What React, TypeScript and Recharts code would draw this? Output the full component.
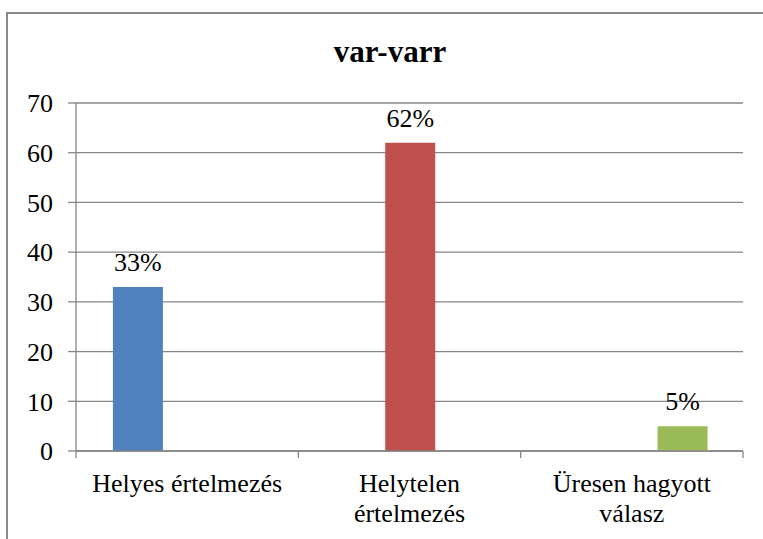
import React from "react";
import { BarChart, Bar, XAxis, YAxis, CartesianGrid, LabelList } from "recharts";

const title = "var-varr";
const categories = ["Helyes értelmezés", "Helytelen értelmezés", "Üresen hagyott válasz"];
const seriesHelyes: (number | null)[] = [33, null, null];
const seriesHelytelen: (number | null)[] = [null, 62, null];
const seriesUres: (number | null)[] = [null, null, 5];
const yTicks = [0, 10, 20, 30, 40, 50, 60, 70];

const data = categories.map((name, i) => ({
  name,
  a: seriesHelyes[i],
  b: seriesHelytelen[i],
  c: seriesUres[i],
}));

const W = 763;
const H = 539;
const xAxisHeight = 30;
const margin = { top: 103, right: 20, bottom: 88 - xAxisHeight, left: 16 };
const yAxisWidth = 60;
const plotWidth = W - margin.left - margin.right - yAxisWidth;
const band = plotWidth / categories.length;
const FONT = "'Liberation Serif', 'Times New Roman', serif";
const GRID = "#868686";
const textStyle: React.CSSProperties = { fontFamily: FONT, fontSize: 26 };

function splitLabel(s: string): string[] {
  if (s.length <= 18) return [s];
  const idx = s.lastIndexOf(" ");
  return [s.slice(0, idx), s.slice(idx + 1)];
}

const XTick = (props: any) => {
  const { x, y, payload, index } = props;
  const lines = splitLabel(String(payload.value));
  return (
    <g>
      <line x1={x - band / 2} x2={x - band / 2} y1={y} y2={y + 7} stroke={GRID} strokeWidth={1.3} />
      {index === categories.length - 1 && (
        <line x1={x + band / 2} x2={x + band / 2} y1={y} y2={y + 7} stroke={GRID} strokeWidth={1.3} />
      )}
      <text x={x} y={y + 23} textAnchor="middle" style={textStyle} fill="#000">
        {lines.map((l, i) => (
          <tspan key={i} x={x} dy={i === 0 ? "0.71em" : 30}>
            {l}
          </tspan>
        ))}
      </text>
    </g>
  );
};

const YTick = (props: any) => {
  const { x, y, payload } = props;
  return (
    <text x={x} y={y} dy="0.355em" textAnchor="end" style={textStyle} fill="#000">
      {payload.value}
    </text>
  );
};

const PctLabel = (props: any) => {
  const { x, y, width, value } = props;
  if (value === null || value === undefined) return null;
  return (
    <text x={x + width / 2} y={y - 16} textAnchor="middle" style={textStyle} fill="#000">
      {`${value}%`}
    </text>
  );
};

export default function App() {
  return (
    <div style={{ position: "fixed", left: 0, top: 0, width: W, height: H, overflow: "hidden", background: "#fff" }}>
      <div
        style={{
          position: "absolute",
          left: 6,
          top: 12,
          width: 900,
          height: 700,
          borderLeft: "2px solid #8a8a8a",
          borderTop: "2px solid #8a8a8a",
        }}
      />
      <div style={{ position: "absolute", left: 0, top: 0 }}>
        <BarChart width={W} height={H} data={data} margin={margin} barCategoryGap="16.6%" barGap={0}>
          <text
            x={390}
            y={62}
            textAnchor="middle"
            style={{ fontFamily: FONT, fontSize: 31, fontWeight: "bold" }}
            fill="#000"
          >
            {title}
          </text>
          <CartesianGrid vertical={false} stroke={GRID} strokeWidth={1.3} />
          <XAxis
            dataKey="name"
            height={xAxisHeight}
            axisLine={{ stroke: GRID, strokeWidth: 1.3 }}
            tickLine={false}
            tickSize={0}
            tickMargin={0}
            interval={0}
            tick={(p: any) => <XTick {...p} />}
          />
          <YAxis
            width={yAxisWidth}
            domain={[0, 70]}
            ticks={yTicks}
            interval={0}
            axisLine={{ stroke: GRID, strokeWidth: 1.3 }}
            tickLine={{ stroke: GRID, strokeWidth: 1.3 }}
            tickSize={8}
            tickMargin={15}
            tick={(p: any) => <YTick {...p} />}
          />
          <Bar dataKey="a" fill="#4F81BD" isAnimationActive={false}>
            <LabelList dataKey="a" content={<PctLabel />} />
          </Bar>
          <Bar dataKey="b" fill="#C0504D" isAnimationActive={false}>
            <LabelList dataKey="b" content={<PctLabel />} />
          </Bar>
          <Bar dataKey="c" fill="#9BBB59" isAnimationActive={false}>
            <LabelList dataKey="c" content={<PctLabel />} />
          </Bar>
        </BarChart>
      </div>
    </div>
  );
}
